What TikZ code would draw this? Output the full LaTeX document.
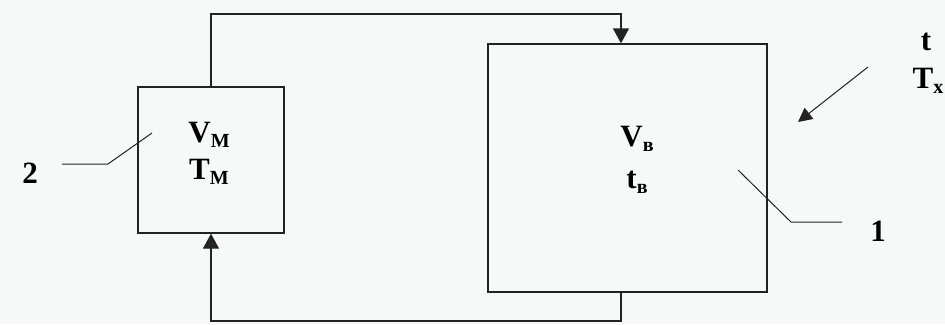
\documentclass[tikz,border=0pt]{standalone}
\usepackage{fontspec}
\setmainfont{Liberation Serif}
\usetikzlibrary{arrows.meta}
\definecolor{bgc}{RGB}{246,250,246}
\definecolor{lnc}{RGB}{35,35,35}
\newcommand{\lowsub}[1]{\raisebox{-5pt}{\fontsize{20}{20}\selectfont\bfseries #1}}
\tikzset{
  blk/.style={draw=lnc, line width=1.3pt, minimum width=#1},
  lbl/.style={anchor=base, inner sep=0pt, font=\fontsize{31}{31}\selectfont\bfseries},
  conn/.style={draw=lnc, line width=1.3pt},
  tri/.style={-{Triangle[width=16pt,length=15pt]}},
  lead/.style={draw=lnc, line width=1pt},
}
\begin{document}
\begin{tikzpicture}[x=1pt,y=-1pt]
\fill[bgc] (0,0) rectangle (945,324);
\useasboundingbox (0,0) rectangle (945,324);
% boxes
\node[blk=146pt, minimum height=146pt] (small) at (211,160) {};
\node[blk=279pt, minimum height=248pt] (big) at (627.5,168) {};
% texts
\node[lbl] (vm) at (209,142) {V\lowsub{M}};
\node[lbl] (tm) at (209,179) {T\lowsub{M}};
\node[lbl] (vb) at (637,146) {V\lowsub{в}};
\node[lbl] (tb) at (637,188) {t\lowsub{в}};
\node[lbl] (t) at (926,50) {t};
\node[lbl] (tx) at (928,88) {T\lowsub{x}};
\node[lbl] (n2) at (30,183) {2};
\node[lbl] (n1) at (878,241) {1};
% connectors
\coordinate (topc) at (621,14);
\coordinate (botc) at (621,321);
\draw[conn, tri] (small.north) |- (topc) -- (topc |- big.north);
\draw[conn, tri] (botc |- big.south) -- (botc) -| (small.south);
% leaders
\coordinate (l2a) at (62,164);
\coordinate (l2b) at (108,164);
\coordinate (l2c) at (152,133);
\draw[lead] (l2a) -- (l2b) -- (l2c);
\coordinate (l1a) at (842,222);
\coordinate (l1b) at (791,222);
\coordinate (l1c) at (738,170);
\draw[lead] (l1a) -- (l1b) -- (l1c);
% incoming arrow
\coordinate (ina) at (868,67);
\coordinate (inb) at (798,122);
\draw[lead, -{Triangle[width=14pt,length=14pt]}] (ina) -- (inb);
\end{tikzpicture}
\end{document}
